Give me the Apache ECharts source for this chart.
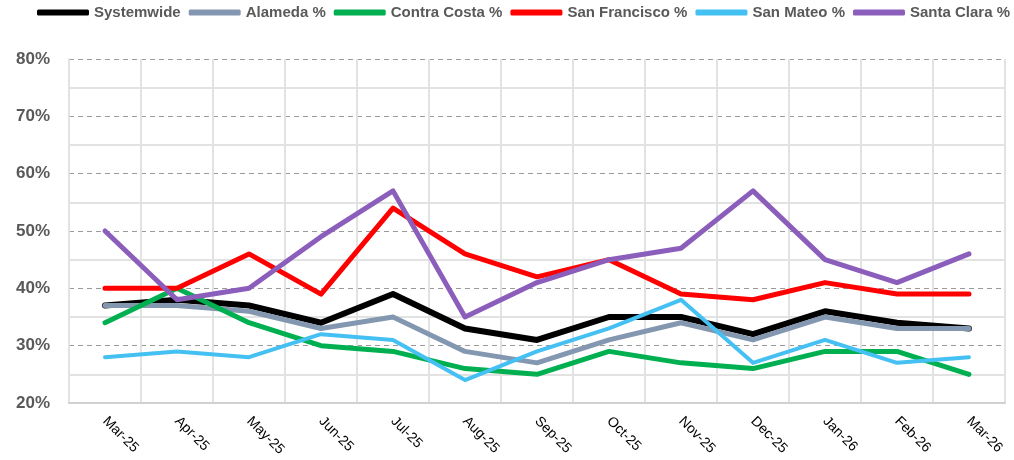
<!DOCTYPE html>
<html>
<head>
<meta charset="utf-8">
<script src="https://cdn.jsdelivr.net/npm/echarts@6/dist/echarts.min.js"></script>
<style>
  html, body { margin: 0; padding: 0; background: #fff; }
  #chart { width: 1014px; height: 460px; }
</style>
</head>
<body>
<div id="chart"></div>
<script>
const months = ["Mar-25", "Apr-25", "May-25", "Jun-25", "Jul-25", "Aug-25", "Sep-25",
  "Oct-25", "Nov-25", "Dec-25", "Jan-26", "Feb-26", "Mar-26"];

const systemwide = [37, 38, 37, 34, 39, 33, 31, 35, 35, 32, 36, 34, 33];
const alameda = [37, 37, 36, 33, 35, 29, 27, 31, 34, 31, 35, 33, 33];
const contraCosta = [34, 40, 34, 30, 29, 26, 25, 29, 27, 26, 29, 29, 25];
const sanFrancisco = [40, 40, 46, 39, 54, 46, 42, 45, 39, 38, 41, 39, 39];
const sanMateo = [28, 29, 28, 32, 31, 24, 29, 33, 38, 27, 31, 27, 28];
const santaClara = [50, 38, 40, 49, 57, 35, 41, 45, 47, 57, 45, 41, 46];

const yTicks = { min: 20, max: 80, step: 10 };

const chart = echarts.init(document.getElementById("chart"));

function line(name, data, color, width) {
  return {
    name,
    type: "line",
    data,
    symbol: "none",
    lineStyle: { color, width, cap: "round", join: "round" },
    itemStyle: { color },
  };
}

const option = {
  animation: false,
  textStyle: { fontFamily: "Liberation Sans, Arial, sans-serif" },

  legend: {
    top: 5,
    left: 37,
    right: 0,
    padding: 0,
    itemWidth: 52,
    itemHeight: 6,
    itemGap: 8,
    icon: "roundRect",
    textStyle: { color: "#595959", fontSize: 15, fontWeight: "bold" },
  },

  grid: { left: 69, right: 9, top: 59, bottom: 57 },

  xAxis: {
    type: "category",
    data: months,
    boundaryGap: true,
    axisLine: { lineStyle: { color: "#d0d0d0", width: 2 } },
    axisTick: { show: false },
    axisLabel: { rotate: -45, color: "#000", fontSize: 14, margin: 16 },
    splitLine: { show: true, lineStyle: { color: "#e2e2e2", width: 2 } },
  },

  yAxis: {
    type: "value",
    min: yTicks.min,
    max: yTicks.max,
    interval: yTicks.step,
    axisLine: { show: true, lineStyle: { color: "#e2e2e2", width: 2 } },
    axisTick: { show: false },
    axisLabel: {
      formatter: "{value}%",
      color: "#595959",
      fontSize: 17,
      fontWeight: "bold",
      margin: 19,
    },
    splitLine: {
      show: true,
      lineStyle: { type: [5, 4], color: "#9a9a9a", width: 1 },
    },
    minorTick: { show: false, splitNumber: 2 },
    minorSplitLine: { show: true, lineStyle: { color: "#e2e2e2", width: 2 } },
  },

  series: [
    line("Systemwide", systemwide, "#000000", 6),
    line("Alameda %", alameda, "#8497b0", 5),
    line("Contra Costa %", contraCosta, "#00b050", 5),
    line("San Francisco %", sanFrancisco, "#ff0000", 5),
    line("San Mateo %", sanMateo, "#45c0f2", 4),
    line("Santa Clara %", santaClara, "#8c5ebb", 5),
  ],
};

chart.setOption(option);
</script>
</body>
</html>
